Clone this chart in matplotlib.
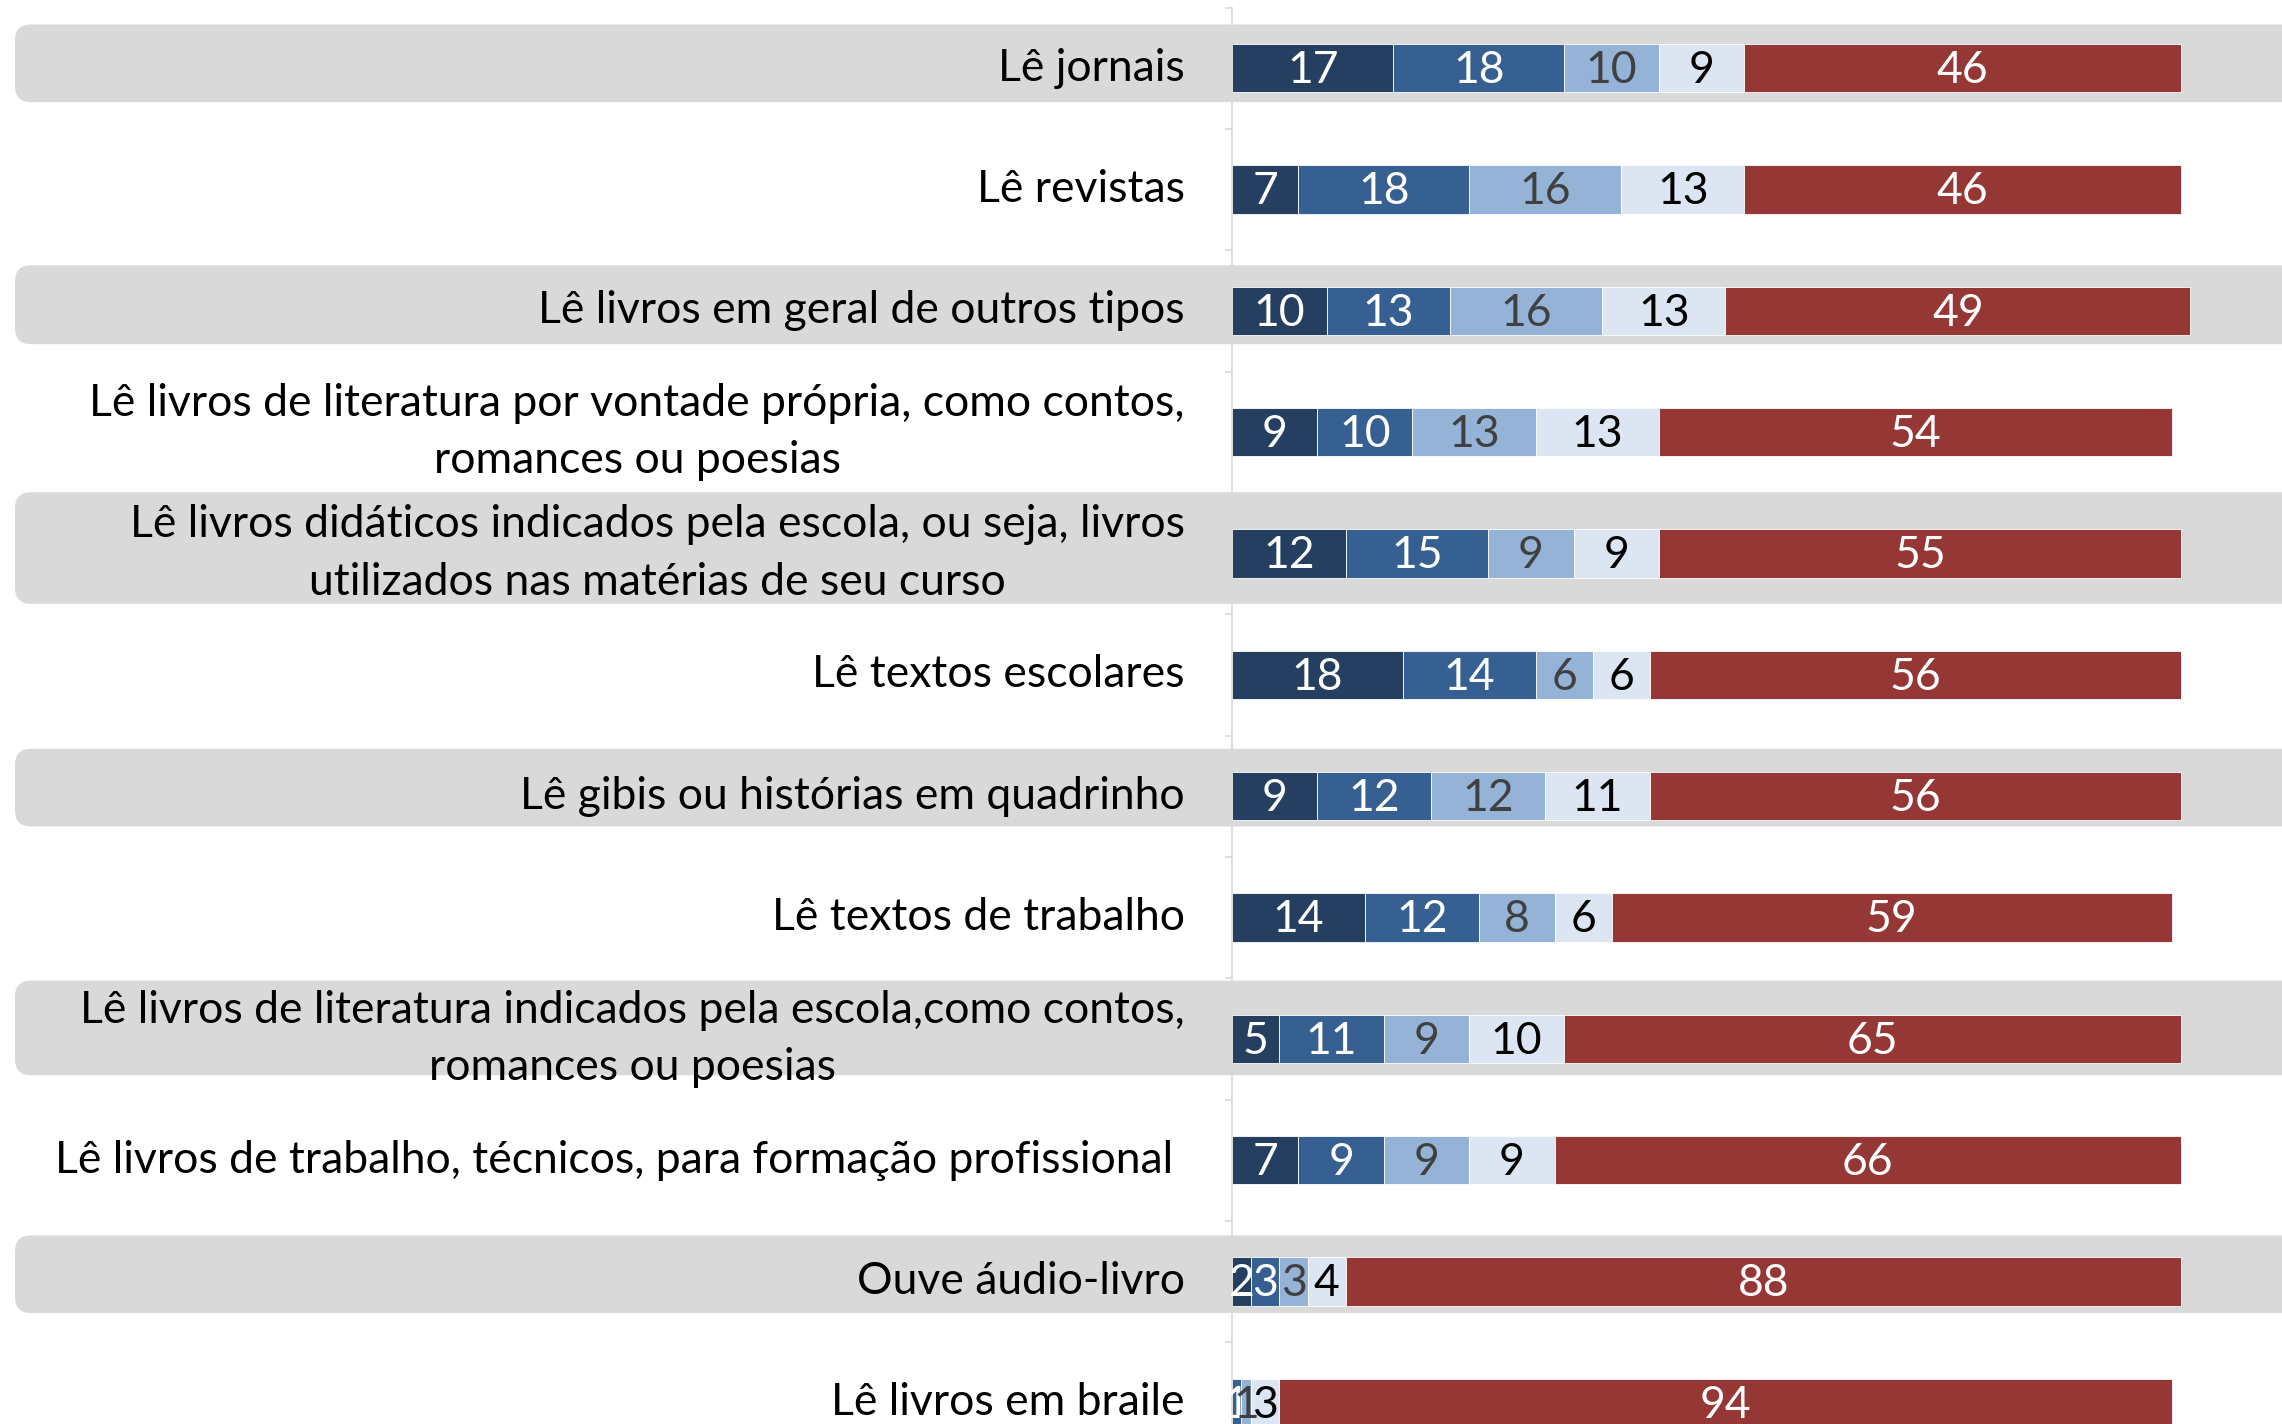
import matplotlib.pyplot as plt
from matplotlib.patches import FancyBboxPatch
from matplotlib.transforms import blended_transform_factory

plt.rcParams['font.family'] = ['Lato', 'DejaVu Sans']

categorias = [
    "Lê jornais",
    "Lê revistas",
    "Lê livros em geral de outros tipos",
    "Lê livros de literatura por vontade própria, como contos,\nromances ou poesias",
    "Lê livros didáticos indicados pela escola, ou seja, livros\nutilizados nas matérias de seu curso",
    "Lê textos escolares",
    "Lê gibis ou histórias em quadrinho",
    "Lê textos de trabalho",
    "Lê livros de literatura indicados pela escola,como contos,\nromances ou poesias",
    "Lê livros de trabalho, técnicos, para formação profissional ",
    "Ouve áudio-livro",
    "Lê livros em braile",
]

serie_1 = [17, 7, 10, 9, 12, 18, 9, 14, 5, 7, 2, 0]
serie_2 = [18, 18, 13, 10, 15, 14, 12, 12, 11, 9, 3, 1]
serie_3 = [10, 16, 16, 13, 9, 6, 12, 8, 9, 9, 3, 1]
serie_4 = [9, 13, 13, 13, 9, 6, 11, 6, 10, 9, 4, 3]
serie_5 = [46, 46, 49, 54, 55, 56, 56, 59, 65, 66, 88, 94]

series = [serie_1, serie_2, serie_3, serie_4, serie_5]
cores = ['#243f60', '#376092', '#95b3d7', '#dce6f2', '#953735']
cores_texto = ['white', 'white', '#404040', 'black', 'white']

# linhas com faixa cinza: (linha, deslocamento, altura) em unidades de categoria
faixas = [(0, -0.04, 0.64), (2, -0.05, 0.65), (4, -0.045, 0.92),
          (6, -0.07, 0.64), (8, -0.09, 0.78), (10, -0.06, 0.64)]

W, H = 2282, 1424
fig = plt.figure(figsize=(W / 100, H / 100), dpi=100)
ax = fig.add_axes([1232 / W, 1 - (7.5 + 1456) / H, 1.2 * 949 / W, 1456 / H])
ax.set_xlim(0, 120)
ax.set_ylim(11.5, -0.5)

trans = blended_transform_factory(fig.transFigure, ax.transData)
for linha, desl, alt in faixas:
    p = FancyBboxPatch((15 / W, linha + desl - alt / 2), 1.2, alt,
                       boxstyle="round,pad=0,rounding_size=0.007",
                       mutation_aspect=18.9, transform=trans,
                       fc='#d9d9d9', ec='none', clip_on=False, zorder=0.2)
    ax.add_patch(p)

y = list(range(len(categorias)))
esquerda = [0] * len(categorias)
for vals, cor, ct in zip(series, cores, cores_texto):
    ax.barh(y, vals, left=esquerda, height=0.40, color=cor,
            edgecolor='white', linewidth=0.6, zorder=2)
    for i, v in enumerate(vals):
        if v > 0:
            ax.text(esquerda[i] + v / 2, i + 0.02, str(v), ha='center', va='center',
                    color=ct, fontsize=32, zorder=3)
    esquerda = [a + b for a, b in zip(esquerda, vals)]

ax.set_yticks(y)
ax.set_yticklabels(categorias, fontsize=32)
for lab in ax.get_yticklabels():
    lab.set_multialignment('center')
    lab.set_linespacing(1.5)
    lab.set_verticalalignment('center')
ax.set_yticks([i - 0.5 for i in range(len(categorias) + 1)], minor=True)
ax.tick_params(axis='y', which='major', length=0, pad=34)
ax.tick_params(axis='y', which='minor', length=5, width=1.2, color='#d9d9d9')
ax.xaxis.set_visible(False)
for s in ['top', 'right', 'bottom']:
    ax.spines[s].set_visible(False)
ax.spines['left'].set_color('#d9d9d9')
ax.spines['left'].set_linewidth(1.2)
ax.patch.set_visible(False)

fig.savefig('out.png', dpi=100)
